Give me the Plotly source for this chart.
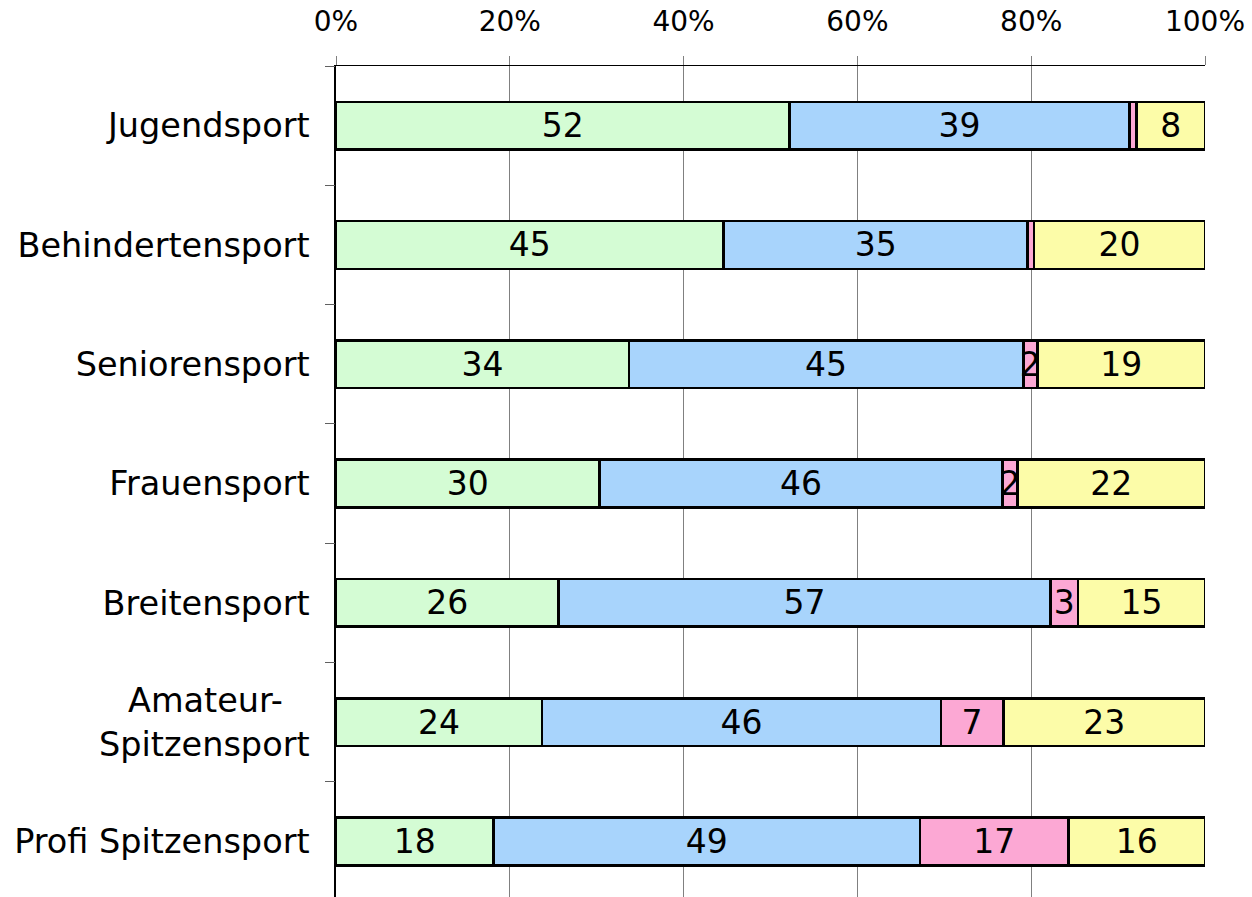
import plotly.graph_objects as go

categories = ["Jugendsport", "Behindertensport", "Seniorensport", "Frauensport",
              "Breitensport", "Amateur-Spitzensport", "Profi Spitzensport"]
category_labels = ["Jugendsport", "Behindertensport", "Seniorensport", "Frauensport",
                   "Breitensport", "Amateur-\u2002\u2009\u200a<br>Spitzensport", "Profi Spitzensport"]

green_vals = [52.2, 44.6, 33.7, 30.3, 25.6, 23.7, 18.1]
blue_vals = [39.1, 35.0, 45.4, 46.4, 56.6, 45.9, 49.1]
pink_vals = [0.8, 0.7, 1.6, 1.7, 3.2, 7.2, 17.1]
yellow_vals = [7.9, 19.7, 19.3, 21.6, 14.6, 23.2, 15.7]

x_tick_vals = [0, 20, 40, 60, 80, 100]
x_tick_text = ["0%", "20%", "40%", "60%", "80%", "100%"]

series = [
    ("green", green_vals, "#d4fcd4"),
    ("blue", blue_vals, "#a8d4fc"),
    ("pink", pink_vals, "#fca8d4"),
    ("yellow", yellow_vals, "#fcfca8"),
]

positions = list(range(len(categories)))

fig = go.Figure()
for name, vals, color in series:
    labels = [f"{round(v)}" if v >= 1.5 else "" for v in vals]
    fig.add_trace(go.Bar(
        name=name, y=positions, x=vals, orientation="h",
        width=0.4,
        marker=dict(color=color, line=dict(color="black", width=2.5)),
        text=labels, textposition="inside", insidetextanchor="middle",
        textangle=0, constraintext="none",
        textfont=dict(family="DejaVu Sans", size=33, color="black"),
        hoverinfo="skip", showlegend=False,
    ))

# invisible trace to activate the boundary-tick axis
fig.add_trace(go.Scatter(x=[None], y=[None], yaxis="y2", showlegend=False, hoverinfo="skip"))

yrange = [6.466, -0.5]
fig.update_layout(
    barmode="stack",
    width=1252, height=897,
    margin=dict(l=336, r=47, t=66, b=0),
    paper_bgcolor="white", plot_bgcolor="white",
    font=dict(family="DejaVu Sans", color="black"),
    uniformtext=dict(minsize=33, mode="show"),
    xaxis=dict(
        side="top", range=[0, 100], tickvals=x_tick_vals, ticktext=x_tick_text,
        showgrid=True, gridcolor="#808080", gridwidth=1,
        showline=True, linecolor="black", linewidth=1,
        ticks="outside", ticklen=9, tickcolor="#808080", tickwidth=1,
        tickfont=dict(size=28, family="DejaVu Sans"),
        ticklabelstandoff=14,
        zeroline=False, fixedrange=True,
    ),
    yaxis=dict(
        range=yrange, tickvals=positions, ticktext=category_labels,
        ticks="", showgrid=False, zeroline=False,
        showline=True, linecolor="black", linewidth=1.5,
        tickfont=dict(size=33.5, family="DejaVu Sans"),
        ticklabelstandoff=18,
    ),
    yaxis2=dict(
        overlaying="y", side="left", range=yrange,
        tickvals=[-0.5, 0.5, 1.5, 2.5, 3.5, 4.5, 5.5],
        ticks="outside", ticklen=10, tickcolor="#606060", tickwidth=1,
        showticklabels=False, showgrid=False, zeroline=False, showline=False,
    ),
)

fig.write_html("out.html")
